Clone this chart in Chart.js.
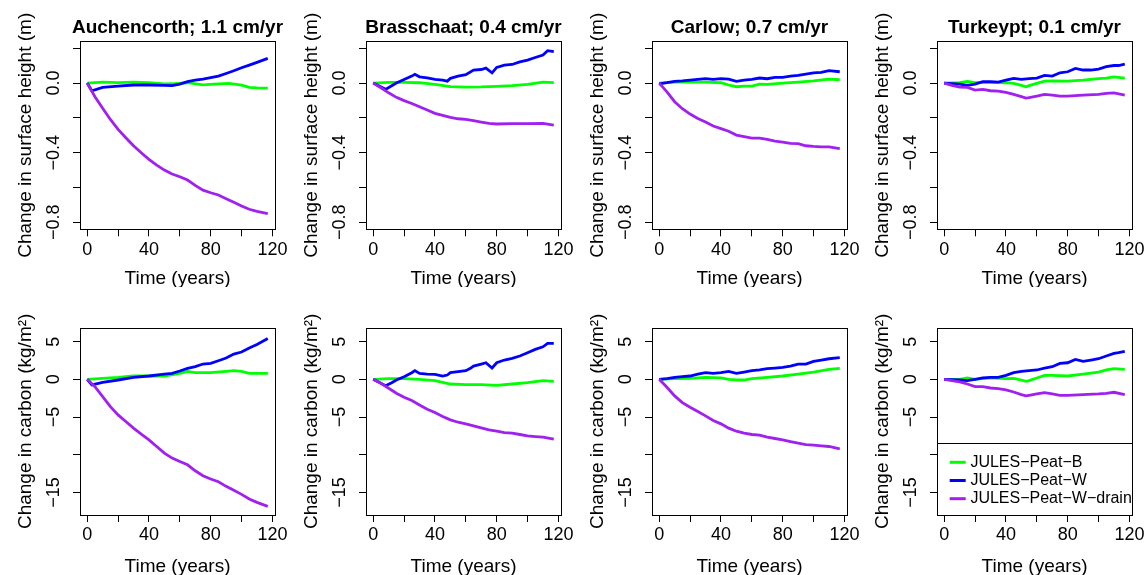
<!DOCTYPE html>
<html>
<head>
<meta charset="utf-8">
<script src="https://cdn.jsdelivr.net/npm/chart.js@4"></script>
<style>
  html, body { margin: 0; padding: 0; background: #fff; overflow: hidden; }
  #wrap { position: relative; width: 1147px; height: 575px; }
  canvas { position: absolute; }
</style>
</head>
<body>
<div id="wrap"></div>
<script>
// ---------- DATA ----------
const siteTitles = ['Auchencorth; 1.1 cm/yr', 'Brasschaat; 0.4 cm/yr', 'Carlow; 0.7 cm/yr', 'Turkeypt; 0.1 cm/yr'];
const seriesNames = ['JULES\u2212Peat\u2212B', 'JULES\u2212Peat\u2212W', 'JULES\u2212Peat\u2212W\u2212drain'];

const xTicks = [0, 20, 40, 60, 80, 100, 120];
const xTickLabels = ['0', '', '40', '', '80', '', '120'];
const heightTicks = [-0.8, -0.6, -0.4, -0.2, 0, 0.2];
const heightTickLabels = ['\u22120.8', '', '\u22120.4', '', '0.0', ''];
const carbonTicks = [-15, -10, -5, 0, 5];
const carbonTickLabels = ['\u221215', '', '\u22125', '0', '5'];

// Change in surface height (m): [year, value]
const hAuchB = [[0,0],[10,0.005],[20,0.003],[30,0.005],[40,0.002],[50,-0.005],[55,-0.004],[65,0.002],[75,-0.01],[85,-0.005],[92,-0.002],[100,-0.012],[105,-0.025],[110,-0.028],[117,-0.029]];
const hAuchW = [[0,0],[3,-0.044],[10,-0.025],[20,-0.017],[30,-0.011],[40,-0.011],[50,-0.013],[55,-0.015],[60,-0.006],[65,0.008],[70,0.017],[75,0.023],[80,0.031],[85,0.04],[90,0.055],[95,0.071],[100,0.088],[105,0.103],[110,0.119],[117,0.142]];
const hAuchWd = [[0,0],[5,-0.078],[10,-0.145],[15,-0.209],[20,-0.266],[25,-0.314],[30,-0.36],[35,-0.40],[40,-0.438],[45,-0.471],[50,-0.50],[55,-0.522],[60,-0.538],[65,-0.557],[70,-0.588],[75,-0.615],[80,-0.63],[85,-0.643],[90,-0.664],[95,-0.685],[100,-0.706],[105,-0.725],[110,-0.737],[117,-0.75]];

const hBrasB = [[0,0],[10,0.004],[20,0.004],[30,0.002],[40,-0.008],[50,-0.02],[60,-0.023],[70,-0.022],[80,-0.019],[90,-0.015],[100,-0.008],[110,0.006],[117,0.003]];
const hBrasW = [[0,0],[8,-0.036],[12,-0.015],[15,0],[20,0.021],[25,0.04],[27,0.05],[30,0.036],[35,0.03],[40,0.021],[45,0.017],[48,0.011],[50,0.027],[55,0.04],[60,0.048],[65,0.075],[70,0.078],[73,0.086],[77,0.059],[80,0.09],[85,0.103],[90,0.107],[95,0.122],[100,0.132],[105,0.147],[110,0.161],[113,0.186],[117,0.18]];
const hBrasWd = [[0,0],[5,-0.027],[10,-0.056],[15,-0.082],[20,-0.101],[25,-0.117],[30,-0.136],[35,-0.155],[40,-0.174],[45,-0.186],[50,-0.197],[55,-0.205],[60,-0.209],[65,-0.216],[70,-0.224],[75,-0.232],[80,-0.235],[90,-0.233],[100,-0.233],[110,-0.232],[117,-0.241]];

const hCarlB = [[0,0],[10,0.006],[20,0.006],[30,0.006],[40,0.002],[45,-0.011],[50,-0.021],[55,-0.017],[60,-0.017],[65,-0.006],[70,-0.008],[80,0],[90,0.006],[100,0.013],[110,0.023],[117,0.019]];
const hCarlW = [[0,-0.004],[5,0.002],[10,0.01],[15,0.013],[20,0.017],[25,0.021],[30,0.025],[35,0.021],[40,0.025],[45,0.023],[50,0.01],[55,0.017],[60,0.021],[65,0.029],[70,0.025],[75,0.033],[80,0.033],[85,0.04],[90,0.044],[95,0.052],[100,0.059],[105,0.061],[110,0.071],[117,0.065]];
const hCarlWd = [[0,0],[5,-0.05],[10,-0.107],[15,-0.147],[20,-0.178],[25,-0.203],[30,-0.224],[35,-0.247],[40,-0.262],[45,-0.277],[50,-0.299],[55,-0.308],[60,-0.316],[65,-0.316],[70,-0.323],[75,-0.333],[80,-0.339],[85,-0.346],[90,-0.348],[95,-0.36],[100,-0.364],[105,-0.366],[110,-0.367],[117,-0.377]];

const hTurkB = [[0,0],[10,0.002],[15,0.01],[20,0.002],[30,0.004],[40,0.002],[45,-0.002],[50,-0.013],[53,-0.021],[55,-0.015],[60,-0.002],[65,0.011],[70,0.013],[80,0.011],[90,0.017],[100,0.025],[105,0.029],[110,0.036],[117,0.029]];
const hTurkW = [[0,0],[10,-0.006],[15,-0.013],[20,-0.006],[25,0.008],[30,0.008],[35,0.006],[40,0.017],[45,0.027],[50,0.021],[55,0.025],[60,0.029],[65,0.044],[70,0.04],[75,0.059],[80,0.065],[85,0.084],[90,0.075],[95,0.075],[100,0.08],[105,0.094],[110,0.101],[113,0.101],[117,0.109]];
const hTurkWd = [[0,0],[5,-0.013],[10,-0.023],[15,-0.025],[20,-0.04],[25,-0.036],[30,-0.044],[35,-0.046],[40,-0.054],[45,-0.065],[50,-0.078],[53,-0.086],[55,-0.084],[60,-0.075],[65,-0.065],[70,-0.069],[75,-0.075],[80,-0.075],[90,-0.069],[100,-0.065],[105,-0.059],[110,-0.056],[117,-0.069]];

// Change in carbon (kg/m2): [year, value]
const cAuchB = [[0,0],[10,0.13],[20,0.26],[30,0.44],[40,0.44],[50,0.44],[60,0.79],[65,1.06],[70,0.88],[80,0.88],[90,1.06],[95,1.15],[100,1.06],[105,0.79],[110,0.79],[117,0.79]];
const cAuchW = [[0,0],[3,-0.75],[10,-0.4],[20,-0.09],[30,0.26],[40,0.44],[50,0.7],[55,0.79],[60,1.1],[65,1.46],[70,1.68],[75,2.03],[80,2.12],[85,2.47],[90,2.82],[95,3.35],[100,3.62],[105,4.15],[110,4.63],[117,5.42]];
const cAuchWd = [[0,0],[5,-0.97],[10,-2.29],[15,-3.62],[20,-4.72],[25,-5.6],[30,-6.48],[35,-7.28],[40,-8.03],[45,-8.91],[50,-9.79],[55,-10.45],[60,-10.9],[65,-11.34],[70,-12.13],[75,-12.79],[80,-13.23],[85,-13.59],[90,-14.2],[95,-14.73],[100,-15.26],[105,-15.88],[110,-16.32],[117,-16.85]];

const cBrasB = [[0,0],[10,0.09],[20,0.09],[30,0],[40,-0.18],[50,-0.62],[60,-0.71],[70,-0.71],[80,-0.79],[90,-0.62],[100,-0.44],[110,-0.18],[117,-0.26]];
const cBrasW = [[0,0],[8,-0.84],[12,-0.44],[15,-0.09],[20,0.35],[25,0.88],[27,1.15],[30,0.79],[35,0.7],[40,0.66],[45,0.44],[48,0.57],[50,0.88],[55,1.01],[60,1.15],[63,1.46],[65,1.76],[70,2.03],[73,2.2],[77,1.5],[80,2.2],[85,2.56],[90,2.78],[95,3.09],[100,3.53],[105,3.97],[110,4.32],[113,4.76],[117,4.76]];
const cBrasWd = [[0,0],[5,-0.53],[10,-1.19],[15,-1.85],[20,-2.38],[25,-2.82],[30,-3.4],[35,-3.97],[40,-4.41],[45,-4.94],[50,-5.38],[55,-5.69],[60,-5.91],[65,-6.18],[70,-6.44],[75,-6.7],[80,-6.88],[85,-7.06],[90,-7.15],[95,-7.32],[100,-7.5],[105,-7.59],[110,-7.68],[117,-7.94]];

const cCarlB = [[0,0],[10,0.09],[20,0.13],[30,0.26],[40,0.18],[45,0],[50,-0.09],[55,-0.09],[60,0.09],[70,0.26],[80,0.44],[90,0.7],[100,0.97],[110,1.32],[117,1.46]];
const cCarlW = [[0,0],[5,0.09],[10,0.26],[15,0.35],[20,0.44],[25,0.7],[30,0.88],[35,0.79],[40,0.88],[45,1.06],[50,0.79],[55,0.97],[60,1.15],[65,1.24],[70,1.41],[75,1.5],[80,1.59],[85,1.76],[90,2.03],[95,2.03],[100,2.38],[105,2.56],[110,2.73],[117,2.87]];
const cCarlWd = [[0,0],[5,-1.06],[10,-2.2],[15,-3.09],[20,-3.71],[25,-4.28],[30,-4.85],[35,-5.47],[40,-5.91],[45,-6.48],[50,-6.88],[55,-7.15],[60,-7.32],[65,-7.41],[70,-7.68],[75,-7.85],[80,-8.03],[85,-8.25],[90,-8.47],[95,-8.65],[100,-8.73],[105,-8.82],[110,-8.91],[117,-9.22]];

const cTurkB = [[0,0],[10,0],[15,0.18],[20,0],[30,0.18],[40,0.09],[45,0.13],[50,-0.09],[53,-0.26],[55,-0.18],[60,0.18],[65,0.53],[70,0.53],[80,0.44],[90,0.7],[100,0.97],[105,1.24],[110,1.41],[117,1.32]];
const cTurkW = [[0,0],[10,-0.09],[15,-0.18],[20,0],[25,0.18],[30,0.26],[35,0.26],[40,0.53],[45,0.88],[50,1.06],[55,1.15],[60,1.24],[65,1.5],[70,1.68],[75,2.12],[80,2.2],[85,2.65],[90,2.38],[95,2.56],[100,2.73],[105,3.09],[110,3.44],[113,3.53],[117,3.71]];
const cTurkWd = [[0,0],[5,-0.18],[10,-0.35],[15,-0.62],[20,-0.97],[25,-0.97],[30,-1.15],[35,-1.24],[40,-1.41],[45,-1.68],[50,-2.03],[53,-2.2],[55,-2.12],[60,-1.94],[65,-1.76],[70,-1.94],[75,-2.12],[80,-2.12],[90,-2.03],[100,-1.94],[105,-1.85],[110,-1.72],[117,-2.03]];

const heightSeries = [[hAuchB, hAuchW, hAuchWd], [hBrasB, hBrasW, hBrasWd], [hCarlB, hCarlW, hCarlWd], [hTurkB, hTurkW, hTurkWd]];
const carbonSeries = [[cAuchB, cAuchW, cAuchWd], [cBrasB, cBrasW, cBrasWd], [cCarlB, cCarlW, cCarlWd], [cTurkB, cTurkW, cTurkWd]];

// ---------- STYLE / LAYOUT ----------
const seriesColors = ['#00FF00', '#0000FF', '#A020F0'];
const FONT = "'Liberation Sans', Arial, Helvetica, sans-serif";
const colLefts = [0, 286, 572, 857];
const BOX_W = 195, AXIS_W = 80, PAD_R = 20;
const rows = [
  { top: 0, h: 287, boxTop: 41.3, xAxisH: 57.7, yMin: -0.84, yMax: 0.24, ticks: heightTicks, labels: heightTickLabels,
    yTitle: 'Change in surface height (m)', yPad: 1.5, series: heightSeries, title: true },
  { top: 287, h: 288, boxTop: 40.7, xAxisH: 60, yMin: -18.0, yMax: 6.85, ticks: carbonTicks, labels: carbonTickLabels,
    yTitle: 'Change in carbon (kg/m\u00B2)', yPad: 4, series: carbonSeries, title: false }
];

const boxPlugin = {
  id: 'rbox',
  afterDatasetsDraw(chart, args, opts) {
    const ctx = chart.ctx, a = chart.chartArea;
    ctx.save();
    if (opts.legend) {
      const top = a.bottom - 72.3;
      ctx.fillStyle = '#fff';
      ctx.fillRect(a.left, top, a.right - a.left, a.bottom - top);
      ctx.strokeStyle = '#000'; ctx.lineWidth = 1;
      ctx.strokeRect(Math.round(a.left) + 0.5, Math.round(top) + 0.5, Math.round(a.right - a.left), Math.round(a.bottom - top));
      ctx.font = '16px ' + FONT;
      ctx.textBaseline = 'middle'; ctx.textAlign = 'left'; ctx.fillStyle = '#000';
      chart.data.datasets.forEach((ds, i) => {
        const y = top + 19.6 + i * 18.2;
        ctx.strokeStyle = ds.borderColor; ctx.lineWidth = 3;
        ctx.beginPath(); ctx.moveTo(a.left + 12.7, y); ctx.lineTo(a.left + 28.7, y); ctx.stroke();
        ctx.fillText(ds.label, a.left + 33.4, y);
      });
    }
    ctx.strokeStyle = '#000'; ctx.lineWidth = 1;
    ctx.strokeRect(Math.round(a.left) + 0.5, Math.round(a.top) + 0.5, Math.round(a.right - a.left), Math.round(a.bottom - a.top));
    if (opts.title) {
      ctx.font = 'bold 19px ' + FONT;
      ctx.fillStyle = '#000'; ctx.textAlign = 'center'; ctx.textBaseline = 'middle';
      ctx.fillText(opts.title, (a.left + a.right) / 2, a.top - 13.8);
    }
    ctx.restore();
  }
};

const wrap = document.getElementById('wrap');
rows.forEach((row, r) => {
  colLefts.forEach((cl, c) => {
    const cv = document.createElement('canvas');
    const W = AXIS_W + BOX_W + PAD_R;
    cv.width = W; cv.height = row.h;
    cv.style.left = cl + 'px'; cv.style.top = row.top + 'px';
    cv.style.width = W + 'px'; cv.style.height = row.h + 'px';
    wrap.appendChild(cv);
    const sers = row.series[c];
    new Chart(cv, {
      type: 'line',
      data: {
        datasets: sers.map((s, i) => ({
          label: seriesNames[i],
          data: s.map(p => ({ x: p[0], y: p[1] })),
          borderColor: seriesColors[i],
          borderWidth: 2.8,
          pointRadius: 0,
          tension: 0,
          fill: false,
          order: 2 - i
        }))
      },
      options: {
        responsive: false, animation: false, devicePixelRatio: 1,
        layout: { padding: { left: 0, right: PAD_R, top: row.boxTop, bottom: 0 } },
        plugins: {
          legend: { display: false }, tooltip: { enabled: false }, title: { display: false },
          rbox: { title: row.title ? siteTitles[c] : null, legend: (r === 1 && c === 3) }
        },
        scales: {
          x: {
            type: 'linear', min: -4.68, max: 121.68,
            afterBuildTicks: s => { s.ticks = xTicks.map(v => ({ value: v })); },
            afterFit: s => { s.height = row.xAxisH; },
            grid: { drawOnChartArea: false, drawTicks: true, tickLength: 7, color: '#000', lineWidth: 1 },
            border: { display: false },
            ticks: { callback: (v, i) => xTickLabels[i], autoSkip: false, maxRotation: 0, minRotation: 0,
              padding: 2.5, color: '#000', font: { family: FONT, size: 18 } },
            title: { display: true, text: 'Time (years)', color: '#000', padding: { top: 0, bottom: 0 },
              font: { family: FONT, size: 19, lineHeight: '16px' } }
          },
          y: {
            type: 'linear', min: row.yMin, max: row.yMax,
            afterBuildTicks: s => { s.ticks = row.ticks.map(v => ({ value: v })); },
            afterFit: s => { s.width = AXIS_W; },
            grid: { drawOnChartArea: false, drawTicks: true, tickLength: 7, color: '#000', lineWidth: 1 },
            border: { display: false },
            ticks: { callback: (v, i) => row.labels[i], autoSkip: false, minRotation: 90, maxRotation: 90,
              crossAlign: 'center', padding: row.yPad, color: '#000', font: { family: FONT, size: 18 } },
            title: { display: true, text: row.yTitle, color: '#000', padding: { top: 16, bottom: 0 },
              font: { family: FONT, size: 19, lineHeight: '20px' } }
          }
        }
      },
      plugins: [boxPlugin]
    });
  });
});
</script>
</body>
</html>
